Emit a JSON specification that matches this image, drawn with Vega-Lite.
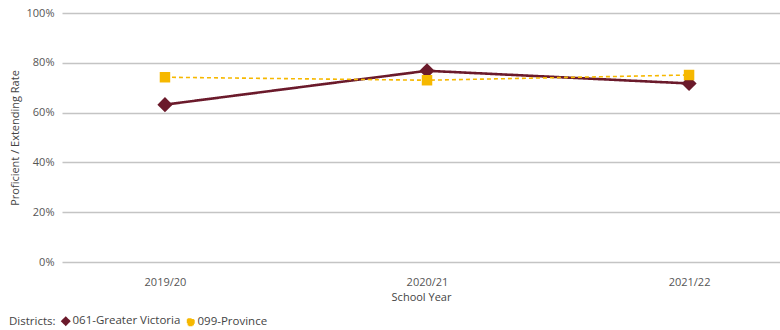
{
  "$schema": "https://vega.github.io/schema/vega-lite/v6.json",
  "width": 718,
  "height": 249,
  "autosize": {"type": "none"},
  "padding": {"left": 62, "top": 13, "right": 0, "bottom": 68},
  "background": "white",
  "config": {
    "font": "Open Sans",
    "view": {"stroke": null},
    "axis": {"labelFont": "Open Sans", "titleFont": "Open Sans"}
  },
  "data": {
    "values": [
      {"year": "2019/20", "district": "061-Greater Victoria", "rate": 0.632},
      {"year": "2020/21", "district": "061-Greater Victoria", "rate": 0.768},
      {"year": "2021/22", "district": "061-Greater Victoria", "rate": 0.717},
      {"year": "2019/20", "district": "099-Province", "rate": 0.742},
      {"year": "2020/21", "district": "099-Province", "rate": 0.730},
      {"year": "2021/22", "district": "099-Province", "rate": 0.751}
    ]
  },
  "encoding": {
    "x": {
      "field": "year",
      "type": "ordinal",
      "scale": {"type": "point", "padding": 0.37, "align": 0.531},
      "axis": {
        "title": "School Year",
        "labelAngle": 0,
        "labelFontSize": 11,
        "labelColor": "#555555",
        "labelPadding": 14,
        "titleFontSize": 11,
        "titleFontWeight": "normal",
        "titleColor": "#444444",
        "titlePadding": 4,
        "domain": false,
        "ticks": false,
        "grid": false
      }
    },
    "y": {
      "field": "rate",
      "type": "quantitative",
      "scale": {"domain": [0, 1], "nice": false},
      "axis": {
        "title": "Proficient / Extending Rate",
        "format": ".0%",
        "values": [0, 0.2, 0.4, 0.6, 0.8, 1],
        "labelFontSize": 11,
        "labelColor": "#555555",
        "labelPadding": 8,
        "titleFontSize": 11,
        "titleFontWeight": "normal",
        "titleColor": "#444444",
        "titlePadding": 6,
        "domain": false,
        "ticks": false,
        "gridColor": "#c4c4c4",
        "gridWidth": 1.6
      }
    },
    "color": {
      "field": "district",
      "type": "nominal",
      "scale": {
        "domain": ["061-Greater Victoria", "099-Province"],
        "range": ["#6b1a2b", "#f6b800"]
      },
      "legend": {
        "title": "Districts:",
        "orient": "none",
        "legendX": -53,
        "legendY": 302,
        "direction": "horizontal",
        "titleOrient": "left",
        "titleFontSize": 11.5,
        "titleFontWeight": "normal",
        "titleColor": "#444444",
        "titlePadding": 4,
        "labelFontSize": 11.5,
        "labelColor": "#444444",
        "labelOffset": 1,
        "symbolSize": 40,
        "symbolStrokeWidth": 0,
        "columnPadding": 3,
        "encode": {
          "symbols": {
            "update": {
              "shape": {"signal": "datum.value === '061-Greater Victoria' ? 'diamond' : 'square'"},
              "strokeWidth": {"value": 0},
              "strokeDash": {"value": [1, 0]}
            }
          }
        }
      }
    }
  },
  "layer": [
    {
      "mark": {"type": "line"},
      "encoding": {
        "strokeDash": {
          "field": "district",
          "type": "nominal",
          "scale": {
            "domain": ["061-Greater Victoria", "099-Province"],
            "range": [[1, 0], [4, 3]]
          },
          "legend": null
        },
        "strokeWidth": {
          "field": "district",
          "type": "nominal",
          "scale": {
            "domain": ["061-Greater Victoria", "099-Province"],
            "range": [2.6, 1.6]
          },
          "legend": null
        }
      }
    },
    {
      "mark": {"type": "point", "filled": true, "opacity": 1},
      "encoding": {
        "shape": {
          "field": "district",
          "type": "nominal",
          "scale": {
            "domain": ["061-Greater Victoria", "099-Province"],
            "range": ["diamond", "square"]
          }
        },
        "size": {
          "condition": {"test": "datum.district === '061-Greater Victoria'", "value": 230},
          "value": 110
        }
      }
    }
  ]
}
